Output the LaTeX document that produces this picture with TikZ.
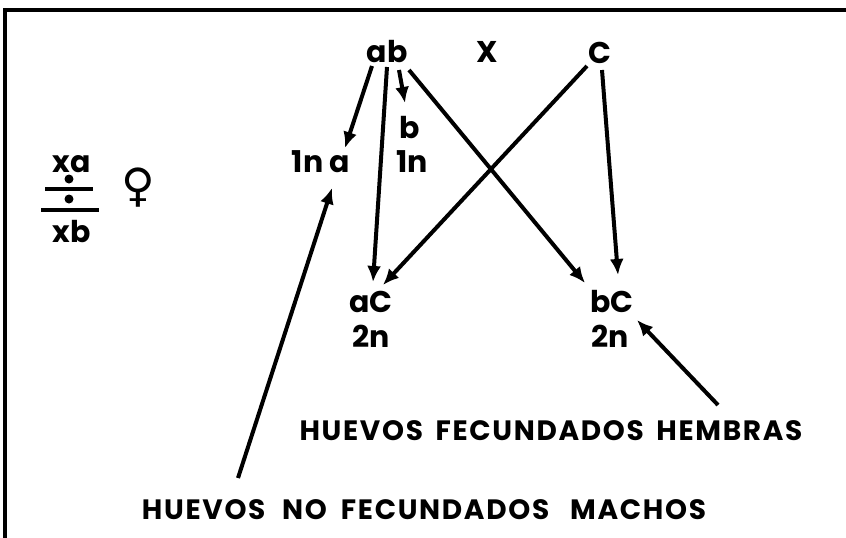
\documentclass[tikz,border=0pt]{standalone}
\usepackage{fontspec}
\setmainfont{Poppins}
\newfontfamily\symfont{DejaVu Sans}
\newfontfamily\wideset[LetterSpace=6]{Poppins}
\usetikzlibrary{arrows.meta}
\tikzset{
  lbl/.style={inner sep=0pt, anchor=base, font=\fontsize{30}{30}\selectfont\bfseries},
  captxt/.style={inner sep=0pt, anchor=base, font=\fontsize{28}{28}\selectfont\wideset\bfseries},
  arr/.style={line width=4pt, -{Latex[length=16pt,width=14pt]}},
  fracrule/.style={line width=4pt},
}
\begin{document}
\begin{tikzpicture}[x=1pt,y=-1pt]
\useasboundingbox (0,0) rectangle (846,538);
% frame
\draw[line width=4pt] (5,538) -- (5,10) -- (846,10);
% female genotype
\node[lbl] (xa) at (72,172) {xa};
\node[lbl] (xb) at (72,242) {xb};
\fill (69,179) circle (4.5);
\fill (69,199) circle (4.5);
\draw[fracrule] (45,189) -- (93,189);
\draw[fracrule] (41,210) -- (99,210);
\node[inner sep=0pt, font=\fontsize{46}{46}\selectfont\symfont\bfseries] (fem) at (138,188) {♀};
% labels
\node[lbl] (ab) at (387,62) {ab};
\node[lbl] (X) at (487,62) {X};
\node[lbl] (C) at (600,63) {C};
\node[lbl] (na) at (321,172) {1n a};
\node[lbl] (b) at (410,138) {b};
\node[lbl] (nb) at (412,172) {1n};
\node[lbl] (aC) at (371,312) {aC};
\node[lbl] (aC2) at (371,347) {2n};
\node[lbl] (bC) at (612,312) {bC};
\node[lbl] (bC2) at (610,347) {2n};
\node[captxt] (hem) at (551,440) {HUEVOS\hspace{0.45em}FECUNDADOS\hspace{0.45em}HEMBRAS};
\node[captxt] (mac) at (424,519) {HUEVOS\hspace{0.6em}NO\hspace{0.5em}FECUNDADOS\hspace{0.75em}MACHOS};
% arrows
\draw[arr] ([shift={(-15,4)}]ab.base) -- ([shift={(24,-24)}]na.base);
\draw[arr] ([shift={(0,5)}]ab.base) -- ([shift={(2,-30)}]aC.base);
\draw[arr] ([shift={(12,8)}]ab.base) -- ([shift={(-5,-35)}]b.base);
\draw[arr] ([shift={(22,8)}]ab.base) -- ([shift={(-27,-29)}]bC.base);
\draw[arr] ([shift={(-13,3)}]C.base) -- ([shift={(12,-27)}]aC.base);
\draw[arr] ([shift={(2,7)}]C.base) -- ([shift={(6,-37)}]bC.base);
\draw[arr] ([shift={(-186,-41)}]mac.base) -- ([shift={(11,16)}]na.base);
\draw[arr] ([shift={(167,-35)}]hem.base) -- ([shift={(27,-27)}]bC2.base);
\end{tikzpicture}
\end{document}
